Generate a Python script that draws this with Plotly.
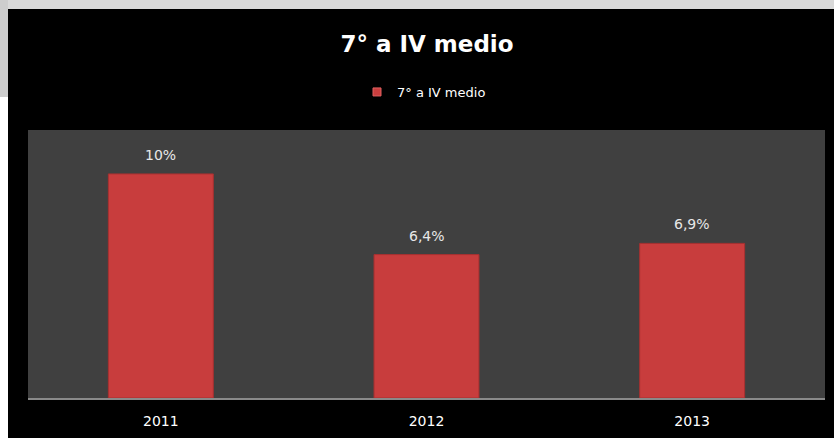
import plotly.graph_objects as go

years = ["2011", "2012", "2013"]
values = [10.0, 6.4, 6.9]
labels = ["10%", "6,4%", "6,9%"]
series_name = "7° a IV medio"

W, H = 834, 438
L, R, T, B = 28, 9, 130, 40
PW, PH = W - L - R, H - T - B

def px(x):
    return (x - L) / PW

def py(y):
    return (H - B - y) / PH

fig = go.Figure()
fig.add_trace(go.Bar(
    x=years, y=values, name=series_name,
    marker=dict(color="#c83d3d", line=dict(color="#a83030", width=1)),
    showlegend=False, hoverinfo="skip",
))
# legend entry with a small square swatch
fig.add_trace(go.Scatter(
    x=[years[0]], y=[None], mode="markers", name=series_name,
    marker=dict(symbol="square", size=8, color="#c93e3e", line=dict(color="#e06060", width=1)),
    showlegend=True, hoverinfo="skip",
))

annotations = [
    dict(x=i, y=v, text=lab, xref="x", yref="y", showarrow=False,
         yanchor="bottom", yshift=9,
         font=dict(color="#e8e8e8", size=14, family="DejaVu Sans"))
    for i, (v, lab) in enumerate(zip(values, labels))
]

shapes = [
    dict(type="rect", xref="paper", yref="paper", x0=px(0), x1=px(W), y0=py(0), y1=py(9),
         fillcolor="#d9d9d9", line=dict(width=0), layer="above"),
    dict(type="rect", xref="paper", yref="paper", x0=px(0), x1=px(8), y0=py(0), y1=py(97),
         fillcolor="#cdcdcd", line=dict(width=0), layer="above"),
    dict(type="rect", xref="paper", yref="paper", x0=px(0), x1=px(8), y0=py(97), y1=py(H),
         fillcolor="#ffffff", line=dict(width=0), layer="above"),
]

fig.update_layout(
    width=W, height=H,
    margin=dict(l=L, r=R, t=T, b=B, pad=0),
    paper_bgcolor="#000000", plot_bgcolor="#404040",
    title=dict(text="<b>" + series_name + "</b>", x=0.512, xanchor="center",
               y=1 - 44 / H, yanchor="middle", yref="container",
               font=dict(color="#ffffff", size=23, family="DejaVu Sans")),
    legend=dict(orientation="h", x=px(424), xanchor="center", y=py(92), yanchor="middle",
                font=dict(color="#ffffff", size=13, family="DejaVu Sans"),
                bgcolor="rgba(0,0,0,0)", itemwidth=30),
    bargap=0.605,
    xaxis=dict(type="category", categoryorder="array", categoryarray=years,
               range=[-0.5, len(years) - 0.5],
               showgrid=False, showline=True, linecolor="#8a8a8a", linewidth=2,
               tickfont=dict(color="#ffffff", size=14, family="DejaVu Sans"),
               ticks="", ticklabelstandoff=9, fixedrange=True),
    yaxis=dict(range=[0, 11.96], visible=False, showgrid=False, zeroline=False, fixedrange=True),
    shapes=shapes,
    annotations=annotations,
    showlegend=True,
    hovermode=False,
)

fig.write_html("out.html", config={"displayModeBar": False},
               post_script="document.body.style.margin='0';document.body.style.padding='0';")
